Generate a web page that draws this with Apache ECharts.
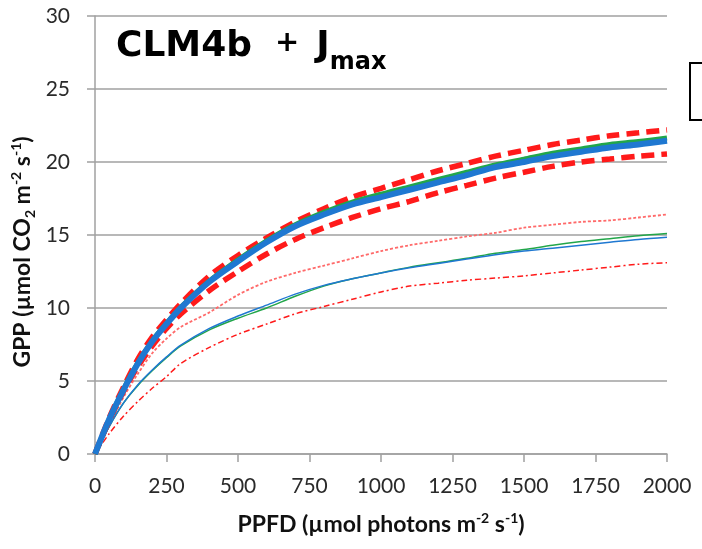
<!DOCTYPE html>
<html><head><meta charset="utf-8">
<script src="https://cdn.jsdelivr.net/npm/echarts@6/dist/echarts.min.js"></script>
<style>html,body{margin:0;padding:0;background:#fff}#c{width:702px;height:549px}</style>
</head><body><div id="c"></div>
<script>
var ppfd = [0,50,100,150,200,250,300,400,500,600,700,800,900,1000,1100,1200,1300,1400,1500,1600,1700,1800,1900,2000];
var thickBlue  = [0,2.4,4.4,6.2,7.7,8.9,10.0,11.8,13.2,14.5,15.6,16.4,17.1,17.6,18.1,18.6,19.1,19.65,20.0,20.4,20.7,21.0,21.2,21.45];
var thickGreen = [0,2.4,4.45,6.25,7.75,8.95,10.05,11.85,13.3,14.6,15.7,16.55,17.25,17.8,18.3,18.8,19.3,19.8,20.2,20.6,20.9,21.2,21.4,21.65];
var redUpper   = [0,2.5,4.6,6.5,8.0,9.2,10.3,12.2,13.6,14.8,15.9,16.8,17.6,18.2,18.8,19.4,19.9,20.4,20.8,21.2,21.5,21.8,22.0,22.2];
var redLower   = [0,2.3,4.3,6.0,7.4,8.6,9.6,11.2,12.5,13.7,14.7,15.5,16.2,16.8,17.3,17.9,18.4,18.9,19.3,19.7,20.0,20.2,20.4,20.55];
var pinkDotted = [0,2.0,3.9,5.5,6.9,7.9,8.7,9.7,10.9,11.8,12.4,12.9,13.4,13.9,14.3,14.6,14.9,15.15,15.5,15.7,15.9,16.0,16.2,16.4];
var thinGreen  = [0,1.9,3.5,4.7,5.7,6.6,7.4,8.5,9.3,10.0,10.8,11.5,12.0,12.4,12.8,13.1,13.4,13.75,14.0,14.3,14.55,14.75,14.95,15.1];
var thinBlue   = [0,1.9,3.5,4.75,5.75,6.65,7.45,8.6,9.45,10.2,10.95,11.55,12.0,12.4,12.75,13.05,13.35,13.65,13.9,14.1,14.3,14.5,14.7,14.85];
var redDashDot = [0,1.4,2.6,3.6,4.5,5.3,6.2,7.3,8.2,8.9,9.6,10.1,10.6,11.1,11.5,11.7,11.9,12.05,12.2,12.4,12.6,12.8,13.0,13.1];
var xTicks = [0,250,500,750,1000,1250,1500,1750,2000];
var yTicks = [0,5,10,15,20,25,30];

function pts(arr){ return ppfd.map(function(x,i){ return [x, arr[i]]; }); }
function line(name, arr, color, width, type, z){
  return {name:name, type:'line', data:pts(arr), showSymbol:false, symbol:'none', smooth:0.3, z:z,
    lineStyle:{color:color, width:width, type:type, cap:'butt'}, emphasis:{disabled:true}, animation:false};
}
var RED='#ff1a1a', BLUE='#1f78d1', GREEN='#22a64a', PINK='#ff6a6a';
var chart = echarts.init(document.getElementById('c'), null, {renderer:'canvas'});
var labelFont = 'Lato, "Liberation Sans", sans-serif';
var titleFont = '"DejaVu Sans", sans-serif';
chart.setOption({
  animation:false,
  grid:{left:95, right:35, top:16, bottom:95, containLabel:false},
  xAxis:{type:'value', min:xTicks[0], max:xTicks[xTicks.length-1], interval:250,
    axisLine:{show:true, lineStyle:{color:'#a0a0a0', width:1.5}},
    axisTick:{show:true, length:8, lineStyle:{color:'#a0a0a0', width:1.5}},
    splitLine:{show:false},
    axisLabel:{margin:22, color:'#2a2a2a', fontSize:21, fontFamily:labelFont,
      formatter:function(v){ return String(v); }}},
  yAxis:{type:'value', min:yTicks[0], max:yTicks[yTicks.length-1], interval:5,
    axisLine:{show:true, lineStyle:{color:'#a0a0a0', width:1.5}},
    axisTick:{show:true, length:8, lineStyle:{color:'#a0a0a0', width:1.5}},
    splitLine:{show:true, lineStyle:{color:'#a0a0a0', width:1.5}},
    axisLabel:{margin:25, color:'#2a2a2a', fontSize:21, fontFamily:labelFont}},
  series:[
    line('thin red dash-dot', redDashDot, RED, 1.5, [6,3,2,3], 2),
    line('thin pink dotted', pinkDotted, PINK, 1.8, [3,2], 2),
    line('thin green', thinGreen, GREEN, 1.5, 'solid', 3),
    line('thin blue', thinBlue, BLUE, 1.5, 'solid', 3),
    line('red lower', redLower, RED, 5.5, [13,7], 4),
    line('red upper', redUpper, RED, 5.5, [13,7], 4),
    line('thick green', thickGreen, GREEN, 5, 'solid', 5),
    line('thick blue', thickBlue, BLUE, 6, 'solid', 6)
  ],
  graphic:[
    {type:'text', left:116, top:29, z:10, style:{
      text:'{a|CLM4b}{g|+}{a|J}{s|max}',
      rich:{a:{fontSize:36, fontWeight:'bold', fontFamily:titleFont, lineHeight:46, verticalAlign:'top', fill:'#000'},
            g:{fontSize:29, fontWeight:'bold', fontFamily:titleFont, lineHeight:46, verticalAlign:'top', fill:'#000', padding:[0,17,0,23]},
            s:{fontSize:24, fontWeight:'bold', fontFamily:titleFont, lineHeight:20, verticalAlign:'bottom', fill:'#000'}}}},
    {type:'text', x:381, y:525, z:10, style:{
      text:'{m|PPFD (µmol photons m}{p|-2}{m| s}{p|-1}{m|)}',
      align:'center', verticalAlign:'middle',
      rich:{m:{fontSize:23, fontWeight:'bold', fontFamily:labelFont, lineHeight:28, fill:'#111'},
            p:{fontSize:14, fontWeight:'bold', fontFamily:labelFont, lineHeight:14, verticalAlign:'top', fill:'#111'}}}},
    {type:'text', x:23, y:252, rotation:Math.PI/2, z:10, style:{
      text:'{m|GPP (µmol CO}{b|2}{m| m}{p|-2}{m| s}{p|-1}{m|)}',
      align:'center', verticalAlign:'middle',
      rich:{m:{fontSize:23, fontWeight:'bold', fontFamily:labelFont, lineHeight:28, fill:'#111'},
            p:{fontSize:14, fontWeight:'bold', fontFamily:labelFont, lineHeight:14, verticalAlign:'top', fill:'#111'},
            b:{fontSize:14, fontWeight:'bold', fontFamily:labelFont, lineHeight:14, verticalAlign:'bottom', fill:'#111'}}}},
    {type:'rect', shape:{x:690, y:63, width:30, height:57}, z:10,
      style:{fill:'#fff', stroke:'#000', lineWidth:2}}
  ]
});
</script>
</body></html>
